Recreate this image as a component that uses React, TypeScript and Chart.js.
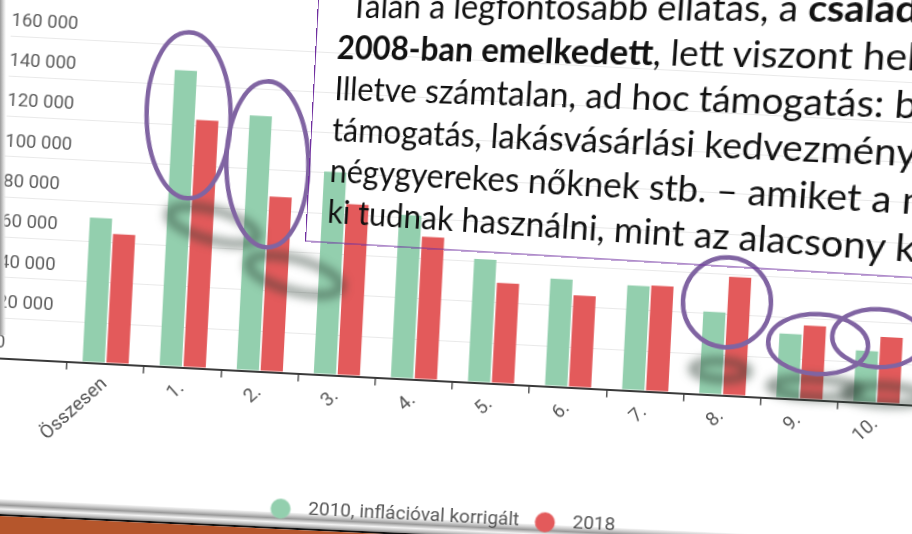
import React, { useEffect, useRef } from "react";
import { Chart, registerables } from "chart.js";

Chart.register(...registerables);

// ---------- data ----------
const categories = ["Összesen", "1.", "2.", "3.", "4.", "5.", "6.", "7.", "8.", "9.", "10."];
const values2010 = [72000, 147200, 126600, 100700, 81200, 61300, 53400, 52100, 41100, 32100, 25700];
const values2018 = [64400, 123100, 87000, 85200, 71000, 50000, 45800, 52600, 58900, 36700, 33000];
const seriesLabels = ["2010, inflációval korrigált", "2018"];
const yMin = 0;
const yMax = 160000;
const yStep = 20000;

// highlight rings drawn on the slide (anchored to category index + value)
const ringCats = [1, 2, 8, 9, 10];
const ringValues = [125100, 102800, 46200, 27800, 32300];
// blurred ring shadows
const shadowCats = [1, 2, 8, 9, 10];
const shadowValues = [71300, 48600, 12400, 5900, 4300];

// ring geometry (px) kept apart from the data
const ringGeom = [
  { dx: -7, rx: 42, ry: 83, rot: -3 },
  { dx: -3, rx: 41, ry: 83, rot: -3 },
  { dx: 0, rx: 44, ry: 45, rot: 0 },
  { dx: 16, rx: 50, ry: 30, rot: 0 },
  { dx: -1.5, rx: 46, ry: 29, rot: 0 },
];
const shadowGeom = [
  { dx: 23, rx: 46, ry: 15, rot: 12 },
  { dx: 30, rx: 48, ry: 16, rot: 12 },
  { dx: -3, rx: 28, ry: 9, rot: 0 },
  { dx: 15, rx: 45, ry: 9, rot: 0 },
  { dx: 8, rx: 40, ry: 9, rot: 0 },
];

// slide text
const textLines: { t: string; b?: boolean }[][] = [
  [{ t: "Talán a legfontosabb ellátás, a " }, { t: "családi pótlék összege utoljára", b: true }],
  [{ t: "2008-ban emelkedett", b: true }, { t: ", lett viszont helyette családi adókedvezmény." }],
  [{ t: "Illetve számtalan, ad hoc támogatás: babaváró" }],
  [{ t: "támogatás, lakásvásárlási kedvezmény, szja-mentesség" }],
  [{ t: "négygyerekes nőknek stb. – amiket a magasabb jövedelműek jobban" }],
  [{ t: "ki tudnak használni, mint az alacsony keresetűek." }],
];

// ---------- style / layout ----------
const GREEN = "#93cfae";
const RED = "#e35a5b";
const PURPLE = "#8064a2";
const ROT = 2.95; // chart tilt, degrees
const AXIS_W = 73;
const TARGET_AREA_W = 849.2;
const TARGET_AREA_H = 322.8;
const TARGET_LEGEND = 136;
const ANCHOR_X = 66.7;
const ANCHOR_Y = 361.4;
const LEG_FONT = 19;
const LEG_PAD = 25;

// text (photographed slide) – local layout and perspective anchors
const BOX_W = 820;
const BOX_H = 300;
const BOX_BORDER = 1.6;
const BOX_PAD_L = 20;
const BOX_PAD_B = 11;
const TXT_SIZE = 33;
const TXT_LH = 41;
const U0 = BOX_BORDER + BOX_PAD_L;
const V6 = BOX_H - BOX_BORDER - BOX_PAD_B - 16.1;
const V1 = V6 - 5 * TXT_LH;
const SPAN = 515;
const boxSrc: [number, number][] = [
  [U0, V6],
  [U0 + SPAN, V6],
  [U0, V1],
  [U0 + SPAN, V1],
];
const boxDst: [number, number][] = [
  [328, 214],
  [870, 249],
  [340, 9],
  [888, 12],
];
// frame outline: bottom-left corner, bottom-edge slope, left-edge lean
const FRAME_BL: [number, number] = [305, 241.7];
const FRAME_SLOPE = 0.06;
const FRAME_LEAN = 0.0538;
const FRAME_W = 720;
const FRAME_H = 300;

function homography(src: [number, number][], dst: [number, number][]) {
  const A: number[][] = [];
  for (let i = 0; i < 4; i++) {
    const [u, v] = src[i];
    const [x, y] = dst[i];
    A.push([u, v, 1, 0, 0, 0, -u * x, -v * x, x]);
    A.push([0, 0, 0, u, v, 1, -u * y, -v * y, y]);
  }
  const n = 8;
  for (let c = 0; c < n; c++) {
    let p = c;
    for (let r = c + 1; r < n; r++) if (Math.abs(A[r][c]) > Math.abs(A[p][c])) p = r;
    [A[c], A[p]] = [A[p], A[c]];
    for (let r = 0; r < n; r++) {
      if (r === c) continue;
      const f = A[r][c] / A[c][c];
      for (let k = c; k <= n; k++) A[r][k] -= f * A[c][k];
    }
  }
  const h = A.map((row, i) => row[n] / row[i]);
  const [a, b, c, d, e, f, g, hh] = h;
  return `matrix3d(${a},${d},0,${g},${b},${e},0,${hh},0,0,1,0,${c},${f},0,1)`;
}

function fmt(v: number) {
  return String(v).replace(/\B(?=(\d{3})+(?!\d))/g, " ");
}

function makeDot(color: string) {
  const c = document.createElement("canvas");
  c.width = 40;
  c.height = 22;
  const g = c.getContext("2d")!;
  g.fillStyle = color;
  g.beginPath();
  g.arc(11.3, 11, 10, 0, Math.PI * 2);
  g.fill();
  return c;
}

const slideMarks = {
  id: "slideMarks",
  afterDatasetsDraw(chart: any) {
    const { ctx, scales } = chart;
    const xs = scales.x;
    const ys = scales.y;
    ctx.save();
    ctx.filter = "blur(5px)";
    ctx.strokeStyle = "rgba(40,58,48,0.55)";
    ctx.lineWidth = 8;
    shadowCats.forEach((c, i) => {
      const g = shadowGeom[i];
      const cx = xs.getPixelForValue(c) + g.dx;
      const cy = ys.getPixelForValue(shadowValues[i]);
      ctx.beginPath();
      ctx.ellipse(cx, cy, g.rx, g.ry, (g.rot * Math.PI) / 180, 0, Math.PI * 2);
      ctx.stroke();
    });
    ctx.filter = "none";
    ctx.strokeStyle = PURPLE;
    ctx.lineWidth = 4.5;
    ringCats.forEach((c, i) => {
      const g = ringGeom[i];
      const cx = xs.getPixelForValue(c) + g.dx;
      const cy = ys.getPixelForValue(ringValues[i]);
      ctx.beginPath();
      ctx.ellipse(cx, cy, g.rx, g.ry, (g.rot * Math.PI) / 180, 0, Math.PI * 2);
      ctx.stroke();
    });
    ctx.restore();
  },
};

function makeConfig(dots: HTMLCanvasElement[], extra: () => number): any {
  return {
    type: "bar",
    data: {
      labels: categories,
      datasets: [
        { label: seriesLabels[0], data: values2010, backgroundColor: GREEN, categoryPercentage: 0.62, barPercentage: 0.93 },
        { label: seriesLabels[1], data: values2018, backgroundColor: RED, categoryPercentage: 0.62, barPercentage: 0.93 },
      ],
    },
    options: {
      animation: false,
      responsive: false,
      devicePixelRatio: 1,
      layout: { padding: { top: 30, left: 0, right: 6, bottom: 0 } },
      scales: {
        x: {
          offset: true,
          grid: { display: true, offset: true, drawOnChartArea: false, drawTicks: true, tickLength: 8, color: "#555", lineWidth: 1.5 },
          border: { display: true, color: "#3a3a3a", width: 2 },
          ticks: {
            autoSkip: false,
            minRotation: 45,
            maxRotation: 45,
            padding: 2,
            color: "#555",
            font: { family: "Roboto", size: 19 },
          },
          afterFit: (s: any) => {
            s.height += extra();
          },
        },
        y: {
          min: yMin,
          max: yMax,
          ticks: {
            stepSize: yStep,
            crossAlign: "far",
            labelOffset: -15,
            padding: 0,
            color: "#5c5c5c",
            font: { family: "Roboto", size: 18.5 },
            callback: (v: any) => fmt(Number(v)),
          },
          grid: {
            drawTicks: true,
            tickLength: AXIS_W,
            color: (c: any) => (c.tick && c.tick.value === 0 ? "#3a3a3a" : "#e9e9e9"),
            lineWidth: (c: any) => (c.tick && c.tick.value === 0 ? 2 : 1),
          },
          border: { display: false },
          afterFit: (s: any) => {
            s.width = AXIS_W;
          },
        },
      },
      plugins: {
        tooltip: { enabled: false },
        legend: {
          position: "bottom",
          labels: {
            usePointStyle: true,
            padding: LEG_PAD,
            color: "#555",
            font: { family: "Roboto", size: LEG_FONT },
            generateLabels: (chart: any) => {
              const items = (Chart as any).defaults.plugins.legend.labels.generateLabels(chart);
              return items.map((it: any, i: number) => ({ ...it, pointStyle: dots[i] }));
            },
          },
        },
      },
    },
    plugins: [slideMarks],
  };
}

export default function App() {
  const canvasRef = useRef<HTMLCanvasElement>(null);
  const wrapRef = useRef<HTMLDivElement>(null);

  useEffect(() => {
    const canvas = canvasRef.current!;
    const wrap = wrapRef.current!;
    const dots = [makeDot(GREEN), makeDot(RED)];
    let extraBottom = 0;
    const build = (w: number, h: number) => {
      canvas.width = w;
      canvas.height = h;
      canvas.style.width = w + "px";
      canvas.style.height = h + "px";
      return new Chart(canvas, makeConfig(dots, () => extraBottom));
    };
    const W0 = 940;
    const H0 = 540;
    let chart = build(W0, H0);
    const a = chart.chartArea;
    const areaW = a.right - a.left;
    const areaH = a.bottom - a.top;
    const legendCY = (chart as any).legend.top + LEG_PAD + LEG_FONT / 2;
    extraBottom = Math.max(0, TARGET_LEGEND - (legendCY - a.bottom));
    const W1 = Math.round(W0 + (TARGET_AREA_W - areaW));
    const H1 = Math.round(H0 + (TARGET_AREA_H - areaH) + extraBottom);
    chart.destroy();
    chart = build(W1, H1);
    const a2 = chart.chartArea;
    const base = chart.scales.y.getPixelForValue(0);
    wrap.style.left = ANCHOR_X - a2.left + "px";
    wrap.style.top = ANCHOR_Y - base + "px";
    wrap.style.transformOrigin = `${a2.left}px ${base}px`;
    wrap.style.transform = `rotate(${ROT}deg)`;
    return () => chart.destroy();
  }, []);

  const textTransform = homography(boxSrc, boxDst);
  const frameTransform = `matrix(1, ${FRAME_SLOPE}, ${-FRAME_LEAN}, 1, ${
    FRAME_BL[0] + FRAME_LEAN * FRAME_H
  }, ${FRAME_BL[1] - FRAME_H})`;

  return (
    <div
      style={{
        position: "fixed",
        left: 0,
        top: 0,
        width: 912,
        height: 534,
        overflow: "hidden",
        background: "#fff",
      }}
    >
      {/* slide bottom edge */}
      <div
        style={{
          position: "absolute",
          left: 0,
          top: 499,
          width: 1000,
          transformOrigin: "0 0",
          transform: "rotate(2.68deg)",
        }}
      >
        <div
          style={{
            height: 15,
            background:
              "linear-gradient(to bottom, #f6f6f6 0px, #cdcdcd 3px, #9a9a9a 6px, #c8c8c8 8px, #f2f2f2 10px, #bdbdbd 13px, #8a8a8a 15px)",
          }}
        />
        <div style={{ height: 2, background: "#111" }} />
        <div style={{ height: 100, background: "#b5562c" }} />
      </div>

      <div ref={wrapRef} style={{ position: "absolute", left: 0, top: 0 }}>
        <canvas ref={canvasRef} />
      </div>

      {/* slide left edge */}
      <div
        style={{
          position: "absolute",
          left: 0,
          top: 0,
          width: 6,
          height: 335,
          background: "linear-gradient(to right, #9a9a9a, #dcdcdc 60%, rgba(255,255,255,0))",
        }}
      />

      {/* text box outline */}
      <div
        style={{
          position: "absolute",
          left: 0,
          top: 0,
          width: FRAME_W,
          height: FRAME_H,
          boxSizing: "border-box",
          border: `${BOX_BORDER}px solid #7030a0`,
          transformOrigin: "0 0",
          transform: frameTransform,
        }}
      />

      {/* text box content */}
      <div
        style={{
          position: "absolute",
          left: 0,
          top: 0,
          width: BOX_W,
          height: BOX_H,
          boxSizing: "border-box",
          border: `${BOX_BORDER}px solid transparent`,
          transformOrigin: "0 0",
          transform: textTransform,
          display: "flex",
          flexDirection: "column",
          justifyContent: "flex-end",
          paddingLeft: BOX_PAD_L,
          paddingBottom: BOX_PAD_B,
          fontFamily: "Lato",
          fontSize: TXT_SIZE,
          lineHeight: TXT_LH + "px",
          color: "#111",
          whiteSpace: "nowrap",
        }}
      >
        {textLines.map((line, i) => (
          <div key={i} style={{ textIndent: i === 0 ? 12 : 0 }}>
            {line.map((s, j) =>
              s.b ? (
                <b key={j} style={{ fontWeight: 700 }}>
                  {s.t}
                </b>
              ) : (
                <span key={j}>{s.t}</span>
              )
            )}
          </div>
        ))}
      </div>
    </div>
  );
}
